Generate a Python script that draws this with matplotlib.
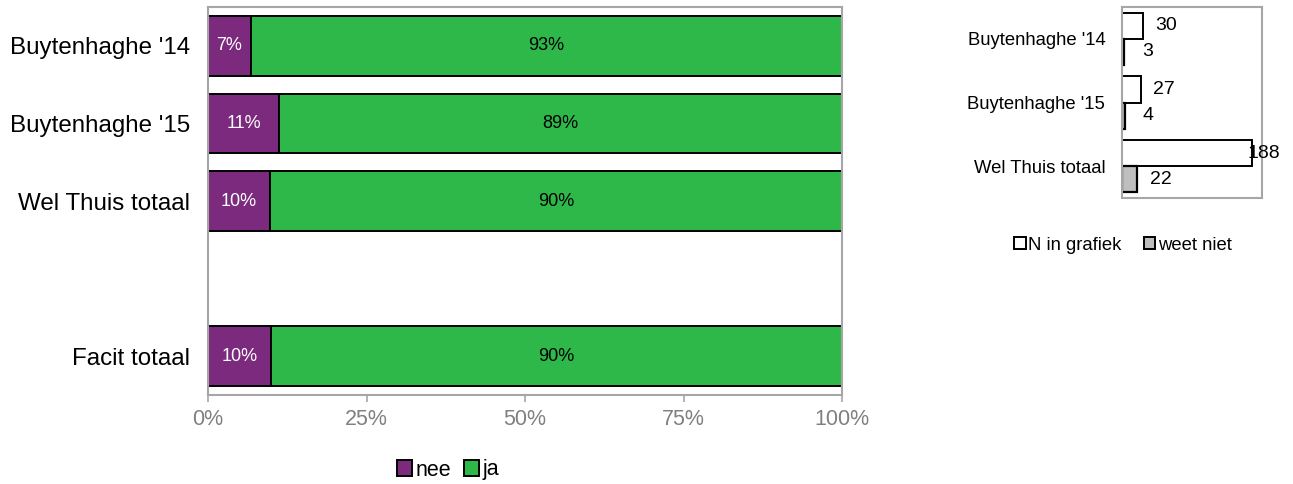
import matplotlib
matplotlib.use("Agg")
import matplotlib.pyplot as plt
import numpy as np
from matplotlib.patches import Patch

plt.rcParams['font.family'] = ['Liberation Sans', 'DejaVu Sans']

# ---- data ----
categories = ["Buytenhaghe '14", "Buytenhaghe '15", "Wel Thuis totaal", "", "Facit totaal"]
nee = [6.8, 11.2, 9.8, np.nan, 9.9]
ja = [93.2, 88.8, 90.2, np.nan, 90.1]
x_ticks = [0, 25, 50, 75, 100]
x_ticklabels = ["0%", "25%", "50%", "75%", "100%"]

n_categories = ["Buytenhaghe '14", "Buytenhaghe '15", "Wel Thuis totaal"]
n_grafiek = [30, 27, 188]
weet_niet = [3, 4, 22]

PURPLE = "#7B2A7E"
GREEN = "#2EB84A"
FRAME = "#A6A6A6"
TICKC = "#808080"

fig = plt.figure(figsize=(12.93, 4.84), dpi=100)

# ---- left chart ----
ax = fig.add_axes([208/1293, 1-395/484, 634/1293, 388/484])
pos = np.arange(len(categories))
nee_a = np.array(nee, dtype=float)
ja_a = np.array(ja, dtype=float)
valid = ~np.isnan(nee_a)
h = 0.77
ax.barh(pos[valid], nee_a[valid], height=h, color=PURPLE, edgecolor="black", linewidth=1.4, label="nee")
ax.barh(pos[valid], ja_a[valid], left=nee_a[valid], height=h, color=GREEN, edgecolor="black", linewidth=1.4, label="ja")
for p, n, j in zip(pos[valid], nee_a[valid], ja_a[valid]):
    ax.text(n/2, p, f"{round(n):.0f}%", ha="center", va="center", color="white", fontsize=13)
    ax.text(n + j/2, p, f"{round(j):.0f}%", ha="center", va="center", color="black", fontsize=13)

ax.set_xlim(0, 100)
ax.set_ylim(len(categories)-0.5, -0.5)
ax.set_yticks(pos)
ax.set_yticklabels(categories, fontsize=17.4)
ax.tick_params(axis="y", length=0, pad=13)
ax.set_xticks(x_ticks)
ax.set_xticklabels(x_ticklabels, fontsize=15.5, color=TICKC)
ax.tick_params(axis="x", direction="out", length=5, width=1.2, color=FRAME, pad=5)
for s in ax.spines.values():
    s.set_color(FRAME)
    s.set_linewidth(1.5)

handles = [Patch(facecolor=PURPLE, edgecolor="black", linewidth=1.4, label="nee"),
           Patch(facecolor=GREEN, edgecolor="black", linewidth=1.4, label="ja")]
fig.legend(handles=handles, loc="center", bbox_to_anchor=(448/1293, 1-470/484), ncol=2,
           frameon=False, fontsize=15.5, handlelength=0.7, handleheight=0.7,
           handletextpad=0.15, columnspacing=0.6)

# ---- right chart ----
ax2 = fig.add_axes([1122/1293, 1-198/484, 140/1293, 191/484])
p2 = np.arange(len(n_categories))
bh = 0.41
ax2.barh(p2 - bh/2, n_grafiek, height=bh, color="white", edgecolor="black", linewidth=1.4)
ax2.barh(p2 + bh/2, weet_niet, height=bh, color="#BFBFBF", edgecolor="black", linewidth=1.6)
XMAX = 202
ax2.set_xlim(0, XMAX)
ax2.set_ylim(len(n_categories)-0.5, -0.5)
for y, v in zip(p2 - bh/2, n_grafiek):
    ax2.text(min(v + 34, XMAX + 2), y, str(v), ha="center", va="center", fontsize=14, clip_on=False)
for y, v in zip(p2 + bh/2, weet_niet):
    ax2.text(min(v + 34, XMAX + 2), y, str(v), ha="center", va="center", fontsize=14, clip_on=False)
ax2.set_xticks([])
ax2.set_yticks(p2)
ax2.set_yticklabels(n_categories, fontsize=13.3)
ax2.tick_params(axis="y", length=0, pad=12)
for s in ax2.spines.values():
    s.set_color(FRAME)
    s.set_linewidth(1.5)

handles2 = [Patch(facecolor="white", edgecolor="black", linewidth=1.4, label="N in grafiek"),
            Patch(facecolor="#BFBFBF", edgecolor="black", linewidth=1.4, label="weet niet")]
fig.legend(handles=handles2, loc="center", bbox_to_anchor=(1123/1293, 1-245/484), ncol=2,
           frameon=False, fontsize=13.3, handlelength=0.6, handleheight=0.6,
           handletextpad=0.15, columnspacing=1.2)

fig.savefig("out.png", dpi=100)
